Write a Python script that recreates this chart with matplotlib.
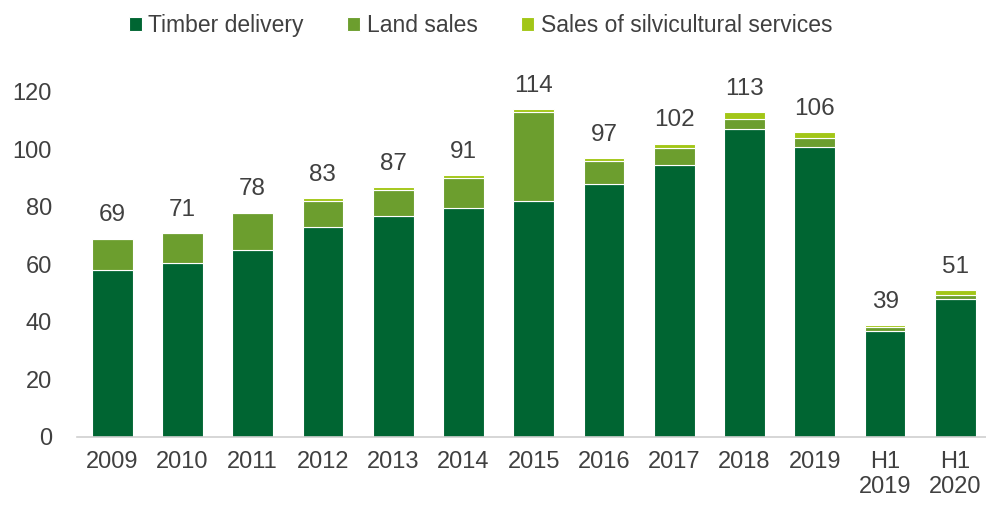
import matplotlib.pyplot as plt
import numpy as np

# revenue by source, stacked per period
periods = ["2009", "2010", "2011", "2012", "2013", "2014", "2015",
           "2016", "2017", "2018", "2019", "H1\n2019", "H1\n2020"]
timber = [58, 60.5, 65, 73, 77, 79.5, 82, 88, 94.5, 107, 101, 37, 48]
land = [11, 10.5, 13, 9, 9, 10.5, 31, 8, 6, 3.5, 3, 1.2, 1.5]
silvi = [0, 0, 0, 1, 1, 1, 1, 1, 1.5, 2.5, 2, 0.8, 1.5]
totals = [69, 71, 78, 83, 87, 91, 114, 97, 102, 113, 106, 39, 51]

COLOURS = ["#006532", "#6c9e2e", "#a2c617"]
FONT = ["Liberation Sans", "DejaVu Sans"]
GREY = "#404040"

fig = plt.figure(figsize=(9.87, 5.05), dpi=100)
ax = fig.add_axes([0.078, 0.1347, 0.922, 0.797])

x = np.arange(len(periods))
w = 0.58
b1 = ax.bar(x, timber, w, color=COLOURS[0], edgecolor="white", linewidth=0.8,
            label="Timber delivery")
b2 = ax.bar(x, land, w, bottom=timber, color=COLOURS[1], edgecolor="white",
            linewidth=0.8, label="Land sales")
base = np.array(timber) + np.array(land)
b3 = ax.bar(x, silvi, w, bottom=base, color=COLOURS[2], edgecolor="white",
            linewidth=0.8, label="Sales of silvicultural services")

# total on top of each stack
tops = base + np.array(silvi)
for xi, top, t in zip(x, tops, totals):
    ax.text(xi, top + 6, str(t), ha="center", va="baseline", fontsize=17.5,
            color=GREY, family=FONT)

ax.set_xlim(-0.5, 12.45)
ax.set_ylim(0, 140)
ax.set_yticks(range(0, 121, 20))
ax.set_xticks(x)
ax.set_xticklabels(periods, family=FONT, fontsize=17, color=GREY)
for lbl in ax.get_yticklabels():
    lbl.set_family(FONT)
    lbl.set_fontsize(17)
    lbl.set_color(GREY)
ax.tick_params(axis="both", length=0)
ax.tick_params(axis="x", pad=10)
ax.tick_params(axis="y", pad=18)

for side in ["top", "right", "left"]:
    ax.spines[side].set_visible(False)
ax.spines["bottom"].set_color("#d0d0d0")
ax.spines["bottom"].set_linewidth(1.2)

fig.legend(handles=[b1, b2, b3], loc="center", bbox_to_anchor=(0.487, 0.95),
           ncol=3, frameon=False, prop={"family": FONT, "size": 16.5},
           handlelength=0.55, handleheight=0.55, handletextpad=0.3,
           columnspacing=1.9, labelcolor=GREY)

fig.savefig("out.png", dpi=100)
